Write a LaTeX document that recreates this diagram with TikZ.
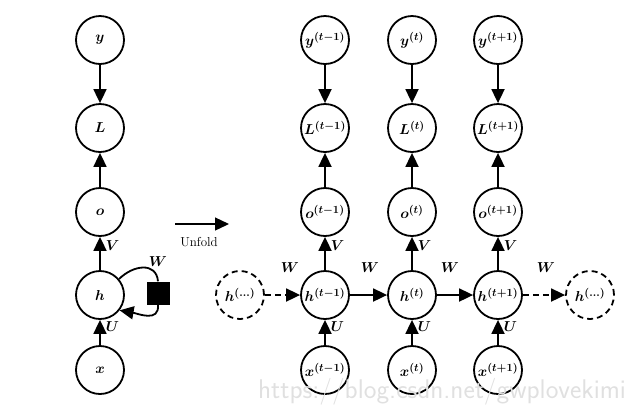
\documentclass[tikz,border=0pt]{standalone}
\usepackage{bm}
\usetikzlibrary{arrows.meta}
\begin{document}
\begin{tikzpicture}[x=1pt,y=-1pt,
  var/.style={circle,draw,line width=1.8pt,minimum size=48pt,inner sep=0pt,font=\fontsize{15}{17}\selectfont\boldmath},
  dvar/.style={var,dashed,dash pattern=on 6pt off 4pt},
  arr/.style={line width=1.8pt,-{Triangle[length=14pt,width=13pt]}},
  darr/.style={arr,dash pattern=on 6pt off 4pt},
  lab/.style={font=\fontsize{14.5}{17}\selectfont\boldmath,inner sep=1pt}]
\useasboundingbox (0,0) rectangle (644,416);
% left folded graph
\node[var] (y) at (100,40) {$y$};
\node[var] (L) at (100,128) {$L$};
\node[var] (o) at (100,212) {$o$};
\node[var] (h) at (100,295) {$h$};
\node[var] (x) at (100,370) {$x$};
\node[fill=black,minimum size=23pt,inner sep=0pt] (sq) at (158,293) {};
\draw[arr] (y) -- (L);
\draw[arr] (o) -- (L);
\draw[arr] (h) -- node[lab,right=4pt,pos=0.75] {$V$} (o);
\draw[arr] (x) -- node[lab,right=4pt,pos=0.75] {$U$} (h);
\draw[line width=1.8pt] (h.40) to[out=45,in=95,looseness=1.3] (sq.north);
\draw[arr] (sq.south) to[out=-85,in=-10,looseness=1.2] (h.-38);
\node[lab] at (158,262) {$W$};
% unfold
\coordinate (u1) at (175,224);
\coordinate (u2) at (229,224);
\draw[arr,line width=1.3pt] (u1) -- (u2);
\node[font=\fontsize{13}{15}\selectfont] at (199,242) {Unfold};
% unfolded graph
\node[dvar] (hl) at (240,295) {$h^{(\ldots)}$};
\node[dvar] (hr) at (590,295) {$h^{(\ldots)}$};
\foreach \n/\xx/\s in {a/325/t-1,b/412/t,c/498/t+1}{
  \node[var] (y\n) at (\xx,40) {$y^{(\s)}$};
  \node[var] (L\n) at (\xx,128) {$L^{(\s)}$};
  \node[var] (o\n) at (\xx,212) {$o^{(\s)}$};
  \node[var] (h\n) at (\xx,295) {$h^{(\s)}$};
  \node[var] (x\n) at (\xx,370) {$x^{(\s)}$};
  \draw[arr] (y\n) -- (L\n);
  \draw[arr] (o\n) -- (L\n);
  \draw[arr] (h\n) -- node[lab,right=4pt,pos=0.75] {$V$} (o\n);
  \draw[arr] (x\n) -- node[lab,right=4pt,pos=0.75] {$U$} (h\n);
}
\draw[darr] (hl) -- (ha);
\draw[arr] (ha) -- (hb);
\draw[arr] (hb) -- (hc);
\draw[darr] (hc) -- (hr);
\node[lab] at (290,268) {$W$};
\node[lab] at (370,268) {$W$};
\node[lab] at (450,268) {$W$};
\node[lab] at (546,268) {$W$};
\node[font=\fontsize{27}{29}\selectfont\sffamily,text=black!12] at (442,392) {https://blog.csdn.net/gwplovekimi};
\end{tikzpicture}
\end{document}
